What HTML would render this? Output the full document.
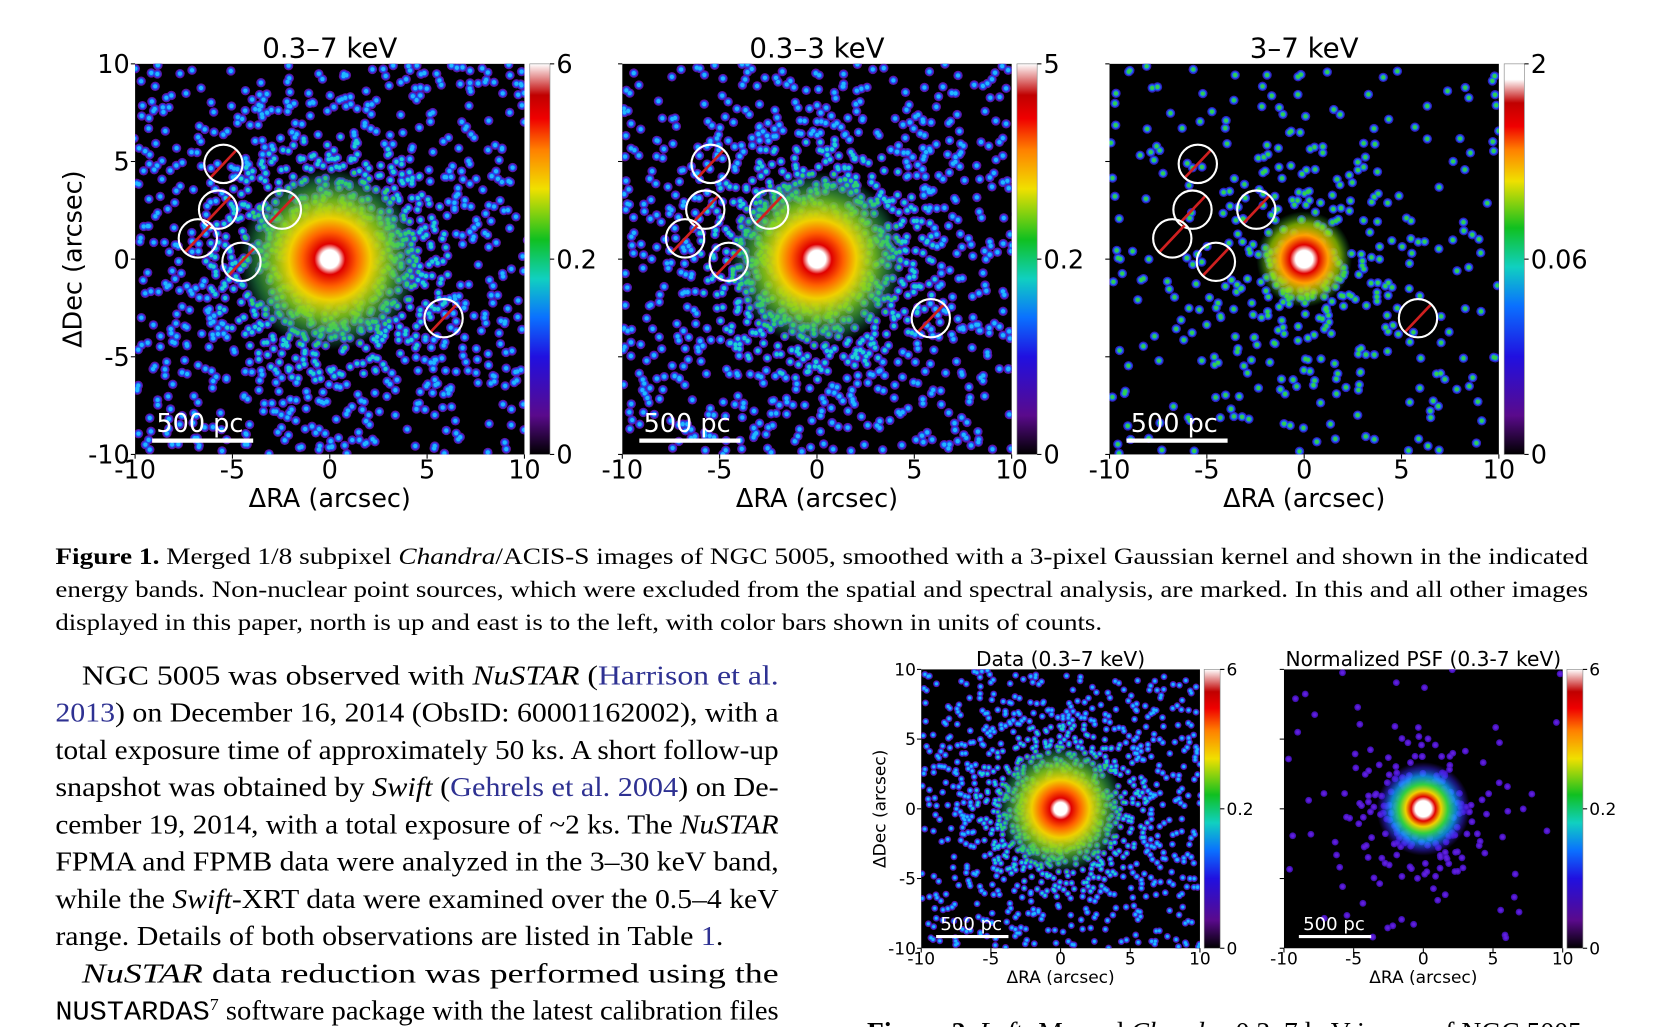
<!DOCTYPE html>
<html><head><meta charset="utf-8">
<style>
html,body{margin:0;padding:0;background:#fff;width:1668px;height:1027px;overflow:hidden}
svg{display:block}
.s{font-family:"DejaVu Sans","Liberation Sans",sans-serif;fill:#000}
.t{font-family:"Liberation Serif",serif;fill:#000}
.l{fill:#2e3192}
</style></head><body>
<svg id="fig" width="1668" height="1027" viewBox="0 0 1568 965" preserveAspectRatio="none" xmlns="http://www.w3.org/2000/svg">
<defs>
<linearGradient id="cb" x1="0" y1="1" x2="0" y2="0">
<stop offset="0" stop-color="#000"/><stop offset="0.1" stop-color="#5a0a8c"/><stop offset="0.25" stop-color="#2010e0"/>
<stop offset="0.35" stop-color="#0a70ff"/><stop offset="0.45" stop-color="#10d0c0"/><stop offset="0.55" stop-color="#10c020"/>
<stop offset="0.68" stop-color="#f0e000"/><stop offset="0.78" stop-color="#ff8000"/><stop offset="0.86" stop-color="#f00000"/>
<stop offset="0.92" stop-color="#c00000"/><stop offset="1" stop-color="#fff"/></linearGradient>
<linearGradient id="cb3" x1="0" y1="1" x2="0" y2="0">
<stop offset="0" stop-color="#000"/><stop offset="0.1" stop-color="#5a0a8c"/><stop offset="0.25" stop-color="#2010e0"/>
<stop offset="0.38" stop-color="#0a70ff"/><stop offset="0.48" stop-color="#10d0c0"/><stop offset="0.58" stop-color="#10c020"/>
<stop offset="0.7" stop-color="#f0e000"/><stop offset="0.78" stop-color="#ff8000"/><stop offset="0.84" stop-color="#f00000"/>
<stop offset="0.9" stop-color="#c00000"/><stop offset="0.96" stop-color="#fff"/><stop offset="1" stop-color="#fff"/></linearGradient>
<radialGradient id="blob">
<stop offset="0" stop-color="#fff"/><stop offset="0.1" stop-color="#fff"/><stop offset="0.17" stop-color="#e00000"/>
<stop offset="0.3" stop-color="#ff6000"/><stop offset="0.45" stop-color="#f0d000"/><stop offset="0.65" stop-color="#80d020" stop-opacity="0.85"/>
<stop offset="0.85" stop-color="#30c060" stop-opacity="0.45"/>
<stop offset="1" stop-color="#20c0a0" stop-opacity="0"/></radialGradient>
<radialGradient id="blob3">
<stop offset="0" stop-color="#fff"/><stop offset="0.18" stop-color="#fff"/><stop offset="0.3" stop-color="#e00000"/>
<stop offset="0.5" stop-color="#ffa000"/><stop offset="0.75" stop-color="#a0e000" stop-opacity="0.7"/>
<stop offset="1" stop-color="#20c040" stop-opacity="0"/></radialGradient>
<radialGradient id="blobp">
<stop offset="0" stop-color="#fff"/><stop offset="0.17" stop-color="#fff"/><stop offset="0.26" stop-color="#e00000"/>
<stop offset="0.38" stop-color="#f0d000"/><stop offset="0.52" stop-color="#30d040"/><stop offset="0.7" stop-color="#10a0ff" stop-opacity="0.8"/>
<stop offset="0.88" stop-color="#3020e0" stop-opacity="0.5"/><stop offset="1" stop-color="#4010c0" stop-opacity="0"/></radialGradient>
</defs>
<g id="panels"></g>

<text class="t" x="52" y="530" font-size="21.5" textLength="1441" lengthAdjust="spacingAndGlyphs"><tspan font-weight="bold">Figure 1.</tspan> Merged 1/8 subpixel <tspan font-style="italic">Chandra</tspan>/ACIS-S images of NGC 5005, smoothed with a 3-pixel Gaussian kernel and shown in the indicated</text>
<text class="t" x="52" y="561" font-size="21.5" textLength="1441" lengthAdjust="spacingAndGlyphs">energy bands. Non-nuclear point sources, which were excluded from the spatial and spectral analysis, are marked. In this and all other images</text>
<text class="t" x="52" y="592" font-size="21.5" textLength="984" lengthAdjust="spacingAndGlyphs">displayed in this paper, north is up and east is to the left, with color bars shown in units of counts.</text>

<g class="t" font-size="25.5">
<text x="77" y="643" textLength="655" lengthAdjust="spacingAndGlyphs">NGC 5005 was observed with <tspan font-style="italic">NuSTAR</tspan> (<tspan class="l">Harrison et al.</tspan></text>
<text x="52" y="678" textLength="680" lengthAdjust="spacingAndGlyphs"><tspan class="l">2013</tspan>) on December 16, 2014 (ObsID: 60001162002), with a</text>
<text x="52" y="713" textLength="680" lengthAdjust="spacingAndGlyphs">total exposure time of approximately 50 ks.  A short follow-up</text>
<text x="52" y="748" textLength="680" lengthAdjust="spacingAndGlyphs">snapshot was obtained by <tspan font-style="italic">Swift</tspan> (<tspan class="l">Gehrels et al. 2004</tspan>) on De-</text>
<text x="52" y="783" textLength="680" lengthAdjust="spacingAndGlyphs">cember 19, 2014, with a total exposure of ~2 ks.  The <tspan font-style="italic">NuSTAR</tspan></text>
<text x="52" y="818" textLength="680" lengthAdjust="spacingAndGlyphs">FPMA and FPMB data were analyzed in the 3–30 keV band,</text>
<text x="52" y="853" textLength="680" lengthAdjust="spacingAndGlyphs">while the <tspan font-style="italic">Swift</tspan>-XRT data were examined over the 0.5–4 keV</text>
<text x="52" y="888" textLength="628" lengthAdjust="spacingAndGlyphs">range. Details of both observations are listed in Table <tspan class="l">1</tspan>.</text>
<text x="77" y="923" textLength="655" lengthAdjust="spacingAndGlyphs"><tspan font-style="italic">NuSTAR</tspan>    data    reduction    was    performed    using    the</text>
<text x="52" y="958" textLength="680" lengthAdjust="spacingAndGlyphs"><tspan font-family="Liberation Mono,monospace">NUSTARDAS</tspan><tspan font-size="16" dy="-9">7</tspan><tspan dy="9"> software package with the latest calibration files</tspan></text>
</g>
<text class="t" x="815" y="978" font-size="25.5" textLength="672" lengthAdjust="spacingAndGlyphs"><tspan font-weight="bold">Figure 2.</tspan> <tspan font-style="italic">Left:</tspan> Merged <tspan font-style="italic">Chandra</tspan> 0.3–7 keV image of NGC 5005</text>
</svg>
<script>
(function(){
var NS="http://www.w3.org/2000/svg";var root=document.getElementById("panels");
var seed=12345;function rnd(){seed=(seed*1103515245+12345)%2147483648;return seed/2147483648;}
function gauss(){var u=rnd()||1e-6,v=rnd();return Math.sqrt(-2*Math.log(u))*Math.cos(2*Math.PI*v);}
function el(n,a,p){var e=document.createElementNS(NS,n);for(var k in a)e.setAttribute(k,a[k]);(p||root).appendChild(e);return e;}
function txt(x,y,s,fs,anchor,p,extra){var e=el("text",Object.assign({x:x,y:y,"font-size":fs,"text-anchor":anchor||"start","class":"s"},extra||{}),p);e.textContent=s;return e;}
var cid=0;
function panel(o){
 var x=o.x,y=o.y,w=o.w,h=o.h;cid++;
 var cp=el("clipPath",{id:"c"+cid});el("rect",{x:x,y:y,width:w,height:h},cp);
 el("rect",{x:x,y:y,width:w,height:h,fill:"#000"});
 var g=el("g",{"clip-path":"url(#c"+cid+")"});
 var cx=x+w/2,cy=y+h/2;
 var pts=[];
 for(var i=0;i<o.n;i++){
  var px,py;
  if(rnd()<o.cfrac){px=cx+gauss()*o.sig;py=cy+gauss()*o.sig;}else{px=x+rnd()*w;py=y+rnd()*h;}
  pts.push([px,py]);
 }
 pts.forEach(function(p){el("circle",{cx:p[0].toFixed(1),cy:p[1].toFixed(1),r:o.dr,fill:o.halo},g);});
 pts.forEach(function(p){el("circle",{cx:p[0].toFixed(1),cy:p[1].toFixed(1),r:o.dr*0.72,fill:o.mid||o.halo},g);});
 pts.forEach(function(p){
  var d=Math.hypot(p[0]-cx,p[1]-cy)/o.sig;var c=o.core;
  if(o.grad){ if(d<0.9)c="#70d030"; else if(d<1.3)c="#30d070"; else if(d<1.8)c="#20d0d0"; }
  el("circle",{cx:p[0].toFixed(1),cy:p[1].toFixed(1),r:o.dr*0.45,fill:c},g);
 });
 if(o.blob)el("circle",{cx:cx,cy:cy,r:o.blobR,fill:"url(#"+o.blob+")"},g);
 (o.circles||[]).forEach(function(c){
  var r=o.cr;el("line",{x1:c[0]-r*0.68,y1:c[1]+r*0.72,x2:c[0]+r*0.68,y2:c[1]-r*0.72,stroke:"#d02020","stroke-width":2.5},g);
  el("circle",{cx:c[0],cy:c[1],r:r,fill:"none",stroke:"#fff","stroke-width":2},g);
 });
 var sb=o.sb;el("line",{x1:x+sb[0],y1:y+h-sb[1],x2:x+sb[0]+sb[2],y2:y+h-sb[1],stroke:"#fff","stroke-width":sb[3]},g);
 txt(x+sb[0]+4,y+h-sb[1]-sb[4],"500 pc",sb[5],"start",g,{fill:"#fff",style:"fill:#fff"});
 var cbx=x+w+o.cbgap;el("rect",{x:cbx,y:y,width:o.cbw,height:h,fill:"url(#"+o.cbg+")",stroke:"#888","stroke-width":0.6});
 var fs=o.fs;
 [[y,o.cbl[0]],[y+h/2,o.cbl[1]],[y+h,o.cbl[2]]].forEach(function(t){
  el("line",{x1:cbx+o.cbw,y1:t[0],x2:cbx+o.cbw+4,y2:t[0],stroke:"#000","stroke-width":1});
  txt(cbx+o.cbw+6,t[0]+fs*0.36,t[1],fs);
 });
 var xs=["-10","-5","0","5","10"];
 for(var k=0;k<5;k++){
  var tx=x+w*k/4,ty=y+h*k/4;
  el("line",{x1:tx,y1:y+h,x2:tx,y2:y+h+4,stroke:"#000"});
  el("line",{x1:x-4,y1:ty,x2:x,y2:ty,stroke:"#000"});
  txt(tx,y+h+fs*0.95,xs[k],fs,"middle");
  if(o.ylab) txt(x-5,ty+fs*0.36,xs[4-k],fs,"end");
 }
 txt(cx,y+h+fs*2.05,"ΔRA (arcsec)",fs,"middle");
 if(o.ylab){var t=txt(0,0,"ΔDec (arcsec)",fs,"middle");t.setAttribute("transform","translate("+(x-fs*2.1)+","+cy+") rotate(-90)");}
 txt(cx,y-o.tgap,o.title,o.tfs,"middle");
}
var cs=[[210,154],[205,197],[186,224],[227,246],[265,197],[417,299]];
function sh(dx){return cs.map(function(c){return [c[0]+dx,c[1]];});}
var big={w:366,h:367,y:60,dr:4.4,cr:18,fs:24,tfs:26,tgap:6,cbgap:5,cbw:19,sb:[16,13,95,4,8,24]};
panel(Object.assign({},big,{x:127,title:"0.3–7 keV",ylab:true,n:1500,cfrac:0.5,sig:65,halo:"#5a14a8",mid:"#1e50f0",core:"#20b8ff",grad:true,blob:"blob",blobR:85,cbg:"cb",cbl:["6","0.2","0"],circles:sh(0)}));
panel(Object.assign({},big,{x:585,title:"0.3–3 keV",n:1450,cfrac:0.5,sig:63,halo:"#5a14a8",mid:"#1e50f0",core:"#20b8ff",grad:true,blob:"blob",blobR:82,cbg:"cb",cbl:["5","0.2","0"],circles:sh(458)}));
panel(Object.assign({},big,{x:1043,title:"3–7 keV",n:480,cfrac:0.45,sig:50,halo:"#3020c0",mid:"#1a70f0",core:"#30d050",blob:"blob3",blobR:45,cbg:"cb3",cbl:["2","0.06","0"],circles:sh(916)}));
var sm={w:262,h:262,y:629,dr:3.2,cr:0,fs:16,tfs:19,tgap:3,cbgap:4,cbw:15,sb:[14,11,68,3,6,17]};
panel(Object.assign({},sm,{x:866,title:"Data (0.3–7 keV)",ylab:true,n:1300,cfrac:0.5,sig:46,halo:"#5a14a8",mid:"#1e50f0",core:"#20b8ff",grad:true,blob:"blob",blobR:60,cbg:"cb",cbl:["6","0.2","0"]}));
panel(Object.assign({},sm,{x:1207,title:"Normalized PSF (0.3-7 keV)",n:260,cfrac:0.75,sig:30,halo:"#4010b0",mid:"#5018c8",core:"#6020e0",blob:"blobp",blobR:44,cbg:"cb",cbl:["6","0.2","0"]}));
})();
</script>
</body></html>
